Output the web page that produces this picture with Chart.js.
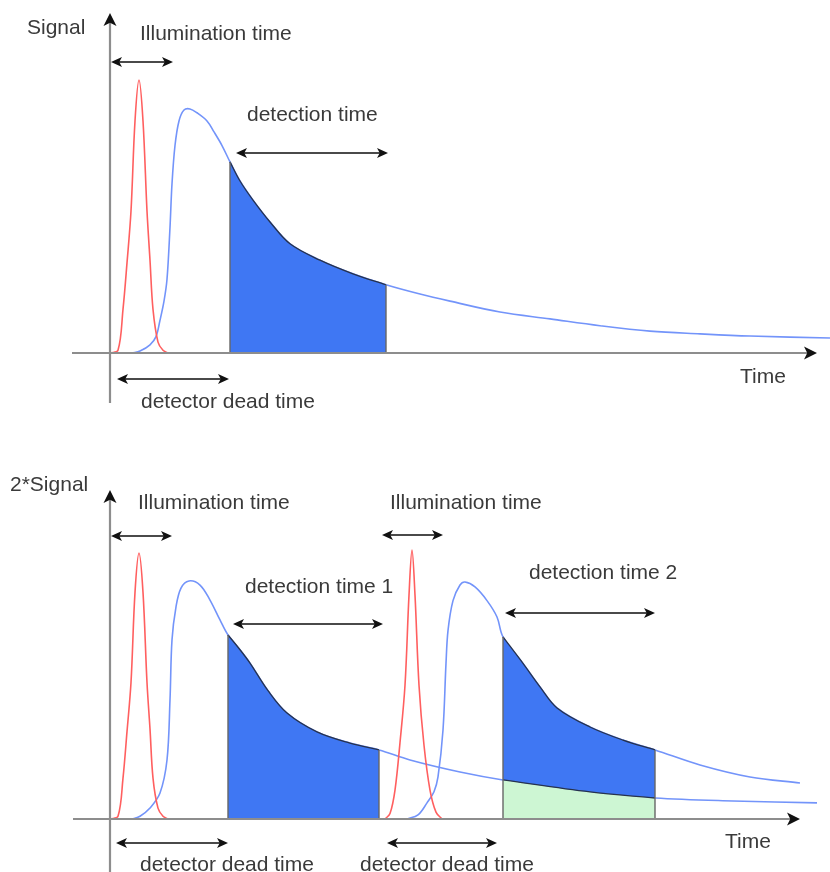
<!DOCTYPE html>
<html>
<head>
<meta charset="utf-8">
<script src="https://cdn.jsdelivr.net/npm/chart.js@4.4.1/dist/chart.umd.min.js"></script>
<style>
  html, body { margin: 0; padding: 0; background: #fff; }
  #wrap { position: relative; width: 830px; height: 872px; overflow: hidden; background: #fff; }
  #wrap canvas { position: absolute; left: 0; }
</style>
</head>
<body>
<div id="wrap">
  <canvas id="chartTop" width="830" height="430" style="top:0"></canvas>
  <canvas id="chartBottom" width="830" height="442" style="top:430px"></canvas>
</div>
<script>
/* time-resolved detection sketch: single vs. double illumination */

// ---- panel 1 : one pulse ----
const P1_RED_T  = [0, 0.8, 1.3, 1.7, 2.1, 2.5, 2.9, 3.3, 3.7, 4.0, 4.3, 4.8, 5.3, 5.8];
const P1_RED_V  = [0, 1, 16, 33, 52, 85, 100, 85, 52, 34, 16, 4, 1, 0];
const P1_BLUE_T = [2.2, 3.0, 4.0, 4.6, 5.0, 5.4, 5.7, 6.0, 6.2, 6.5, 6.9, 7.4, 8.0, 8.7, 9.7, 10.4, 11.2, 12.0,
                   13.0, 14.3, 16.0, 18.0, 21.0, 24.3, 27.6, 31.0, 34.0, 39.0, 44.0, 49.0, 54.0, 59.0, 64.0, 72.0];
const P1_BLUE_V = [0, 0.7, 3, 6, 12, 19, 27, 46, 62, 76, 85, 89, 89.4, 88, 85, 81, 76, 70,
                   63, 56, 48, 40, 34, 29, 25, 21.6, 19, 15, 12.5, 10, 8, 7, 6.2, 5.5];
const P1_DETECT = [12.0, 27.6];

// ---- panel 2 : two pulses ----
const P2_RED1_T  = [0, 0.8, 1.3, 1.7, 2.1, 2.5, 2.9, 3.3, 3.7, 4.0, 4.3, 4.8, 5.3, 5.8];
const P2_RED1_V  = [0, 1, 15, 32, 50, 83, 97.4, 83, 50, 33, 15, 4, 1, 0];
const P2_RED2_T  = [27.5, 28.0, 28.5, 29.0, 29.5, 29.9, 30.2, 30.5, 30.9, 31.4, 32.0, 32.6, 33.2];
const P2_RED2_V  = [0, 2, 10.6, 28, 49, 82, 98.5, 82, 49, 27, 10.6, 2.5, 0];
const P2_BLUE1_T = [2.2, 3.0, 4.0, 5.0, 5.7, 6.0, 6.2, 6.6, 7.1, 7.9, 9.0, 10.0, 11.0, 11.8, 13.0, 14.0,
                    15.8, 17.7, 20.7, 24.0, 26.9, 30.0, 35.0, 39.3, 48.0, 54.5, 62.3, 70.7];
const P2_BLUE1_V = [0, 1, 4, 9.5, 21.6, 43.6, 65.6, 77.7, 84.6, 87.2, 85.7, 80.2, 72.9, 67.4, 62, 57.1,
                    47, 38.8, 31.9, 27.8, 25.3, 21.6, 17.2, 14.3, 9.9, 7.7, 6.6, 5.9];
const P2_BLUE2_T = [29.7, 30.8, 31.7, 32.4, 32.8, 33.3, 33.6, 33.8, 34.3, 35.0, 35.5, 36.5, 37.7, 38.7, 39.3,
                    41.3, 43.0, 44.7, 48.0, 51.3, 54.5, 59.0, 64.0, 69.0];
const P2_BLUE2_V = [0, 1.5, 5.9, 10, 15.4, 32.6, 57, 69, 80, 85.7, 86.8, 85, 80, 74, 66.7,
                    57, 48.4, 40.7, 33.7, 28.9, 25.3, 19.8, 15.4, 13.2];
const P2_DETECT1 = [11.8, 26.9];
const P2_DETECT2 = [39.3, 54.5];

// ---- texts ----
const LABELS_TOP = ['Signal', 'Illumination time', 'detection time', 'detector dead time', 'Time'];
const LABELS_BOTTOM = ['2*Signal', 'Illumination time', 'Illumination time', 'detection time 1',
                       'detection time 2', 'detector dead time', 'detector dead time', 'Time'];

const C = {
  red: '#ff5f5f',
  blue: '#7394fa',
  fill: '#3f77f3',
  green: '#cdf6d3',
  edge: '#26324d',
  side: '#666',
  axis: '#8d8d8d',
  arrow: '#4a4a4a',
  text: '#3a3a3a'
};
const FONT = '21px "Liberation Sans", Arial, sans-serif';
const PX_PER_UNIT = 2.73;   // vertical pixels per signal unit
const PX_PER_T = 10;        // horizontal pixels per time unit
const ORIGIN_X = 110;       // y axis position in the picture

function pts(ts, vs) {
  return ts.map((t, i) => ({ x: t, y: vs[i] }));
}
function within(ts, vs, win) {
  return pts(ts, vs).filter(p => p.x >= win[0] && p.x <= win[1]);
}
function valueAt(ts, vs, t) {
  return vs[ts.indexOf(t)];
}
function curve(data, color, order) {
  return {
    data, borderColor: color, borderWidth: 1.6, pointRadius: 0, fill: false,
    tension: 0.35, order
  };
}
function area(data, color, order) {
  return {
    data, borderColor: C.edge, borderWidth: 1.3, backgroundColor: color, pointRadius: 0,
    fill: 'origin', tension: 0.35, order
  };
}
// vertical side of a shaded window, from 0 up to the curve value at t
function side(ts, vs, t, order) {
  return {
    data: [{ x: t, y: 0 }, { x: t, y: valueAt(ts, vs, t) }],
    borderColor: C.side, borderWidth: 1.4, pointRadius: 0, fill: false, order
  };
}

/* ---- drawing helpers ---- */
function head(ctx, tx, ty, ux, uy, len, half) {
  const bx = tx - ux * len, by = ty - uy * len;
  ctx.beginPath();
  ctx.moveTo(tx, ty);
  ctx.lineTo(bx - uy * half, by + ux * half);
  ctx.lineTo(bx + ux * len * 0.25, by + uy * len * 0.25);
  ctx.lineTo(bx + uy * half, by - ux * half);
  ctx.closePath();
  ctx.fill();
}

const sketchPlugin = {
  id: 'sketch',
  afterDatasetsDraw(chart, args, opts) {
    const ctx = chart.ctx;
    const sx = chart.scales.x, sy = chart.scales.y;
    const X = t => sx.getPixelForValue(t);
    const Y = v => sy.getPixelForValue(v);
    ctx.save();

    // axes
    const a = opts.axes;
    ctx.strokeStyle = C.axis;
    ctx.fillStyle = '#111';
    ctx.lineWidth = 2.2;
    ctx.beginPath();
    ctx.moveTo(X(a.xFrom), Y(0));
    ctx.lineTo(X(a.xTo) - 8, Y(0));
    ctx.moveTo(X(0), Y(a.yFrom));
    ctx.lineTo(X(0), Y(a.yTo) + 8);
    ctx.stroke();
    head(ctx, X(a.xTo), Y(0), 1, 0, 13, 6.5);
    head(ctx, X(0), Y(a.yTo), 0, -1, 13, 6.5);

    // double arrows
    ctx.strokeStyle = C.arrow;
    ctx.lineWidth = 2;
    opts.arrows.forEach(r => {
      const x1 = X(r.from), x2 = X(r.to), y = Y(r.at);
      ctx.beginPath();
      ctx.moveTo(x1 + 6, y);
      ctx.lineTo(x2 - 6, y);
      ctx.stroke();
      head(ctx, x1, y, -1, 0, 11, 5);
      head(ctx, x2, y, 1, 0, 11, 5);
    });

    // labels
    ctx.fillStyle = C.text;
    ctx.font = FONT;
    ctx.textAlign = 'left';
    ctx.textBaseline = 'middle';
    opts.texts.forEach(s => ctx.fillText(s.text, X(s.t), Y(s.v)));
    ctx.restore();
  }
};

function makeChart(id, datasets, axisPx, height, sketch) {
  const canvas = document.getElementById(id);
  return new Chart(canvas.getContext('2d'), {
    type: 'line',
    data: { datasets },
    options: {
      responsive: false,
      animation: false,
      events: [],
      layout: { padding: 0 },
      scales: {
        x: { type: 'linear', display: false, min: -ORIGIN_X / PX_PER_T, max: (830 - ORIGIN_X) / PX_PER_T },
        y: { type: 'linear', display: false, min: -(height - axisPx) / PX_PER_UNIT, max: axisPx / PX_PER_UNIT }
      },
      plugins: { legend: { display: false }, tooltip: { enabled: false }, sketch }
    },
    plugins: [sketchPlugin]
  });
}

// ---- panel 1 ----
makeChart('chartTop', [
  side(P1_BLUE_T, P1_BLUE_V, P1_DETECT[0], 0),
  side(P1_BLUE_T, P1_BLUE_V, P1_DETECT[1], 0),
  area(within(P1_BLUE_T, P1_BLUE_V, P1_DETECT), C.fill, 1),
  curve(pts(P1_RED_T, P1_RED_V), C.red, 2),
  curve(pts(P1_BLUE_T, P1_BLUE_V), C.blue, 3)
], 353, 430, {
  axes: { xFrom: -3.8, xTo: 70.7, yFrom: -18.3, yTo: 124.5 },
  arrows: [
    { from: 0.1, to: 6.3, at: 106.6 },
    { from: 12.6, to: 27.8, at: 73.3 },
    { from: 0.7, to: 11.9, at: -9.5 }
  ],
  texts: [
    { text: LABELS_TOP[0], t: -8.3, v: 119 },
    { text: LABELS_TOP[1], t: 3.0, v: 116.8 },
    { text: LABELS_TOP[2], t: 13.7, v: 87.2 },
    { text: LABELS_TOP[3], t: 3.1, v: -17.9 },
    { text: LABELS_TOP[4], t: 63.0, v: -8.8 }
  ]
});

// ---- panel 2 ----
makeChart('chartBottom', [
  side(P2_BLUE1_T, P2_BLUE1_V, P2_DETECT1[0], 0),
  side(P2_BLUE1_T, P2_BLUE1_V, P2_DETECT1[1], 0),
  side(P2_BLUE2_T, P2_BLUE2_V, P2_DETECT2[0], 0),
  side(P2_BLUE2_T, P2_BLUE2_V, P2_DETECT2[1], 0),
  area(within(P2_BLUE1_T, P2_BLUE1_V, P2_DETECT2), C.green, 1),
  area(within(P2_BLUE2_T, P2_BLUE2_V, P2_DETECT2), C.fill, 2),
  area(within(P2_BLUE1_T, P2_BLUE1_V, P2_DETECT1), C.fill, 2),
  curve(pts(P2_RED1_T, P2_RED1_V), C.red, 3),
  curve(pts(P2_RED2_T, P2_RED2_V), C.red, 3),
  curve(pts(P2_BLUE1_T, P2_BLUE1_V), C.blue, 4),
  curve(pts(P2_BLUE2_T, P2_BLUE2_V), C.blue, 4)
], 389, 442, {
  axes: { xFrom: -3.7, xTo: 69.0, yFrom: -19.4, yTo: 120.5 },
  arrows: [
    { from: 0.1, to: 6.2, at: 103.7 },
    { from: 27.2, to: 33.3, at: 104 },
    { from: 12.3, to: 27.3, at: 71.4 },
    { from: 39.5, to: 54.5, at: 75.5 },
    { from: 0.6, to: 11.8, at: -8.8 },
    { from: 27.7, to: 38.7, at: -8.8 }
  ],
  texts: [
    { text: LABELS_BOTTOM[0], t: -10.0, v: 122.3 },
    { text: LABELS_BOTTOM[1], t: 2.8, v: 115.8 },
    { text: LABELS_BOTTOM[2], t: 28.0, v: 115.8 },
    { text: LABELS_BOTTOM[3], t: 13.5, v: 85.0 },
    { text: LABELS_BOTTOM[4], t: 41.9, v: 90.1 },
    { text: LABELS_BOTTOM[5], t: 3.0, v: -16.8 },
    { text: LABELS_BOTTOM[6], t: 25.0, v: -16.8 },
    { text: LABELS_BOTTOM[7], t: 61.5, v: -8.4 }
  ]
});
</script>
</body>
</html>
